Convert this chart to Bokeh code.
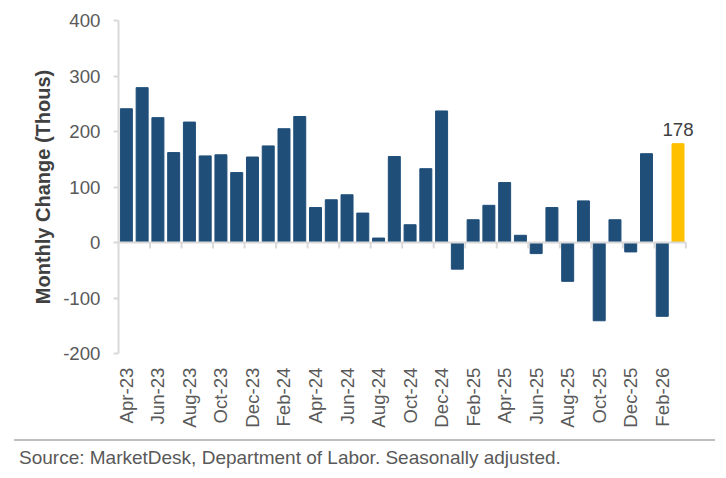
import math
from bokeh.plotting import figure
from bokeh.models import ColumnDataSource, FixedTicker, Range1d, Label, Div
from bokeh.layouts import column
from bokeh.embed import file_html
from bokeh.resources import INLINE

# ---- data ----
months = ["Apr-23", "May-23", "Jun-23", "Jul-23", "Aug-23", "Sep-23", "Oct-23", "Nov-23",
          "Dec-23", "Jan-24", "Feb-24", "Mar-24", "Apr-24", "May-24", "Jun-24", "Jul-24",
          "Aug-24", "Sep-24", "Oct-24", "Nov-24", "Dec-24", "Jan-25", "Feb-25", "Mar-25",
          "Apr-25", "May-25", "Jun-25", "Jul-25", "Aug-25", "Sep-25", "Oct-25", "Nov-25",
          "Dec-25", "Jan-26", "Feb-26", "Mar-26"]
changes = [241, 279, 225, 162, 217, 156, 158, 126, 154, 174, 205, 227,
           63, 77, 86, 53, 8, 155, 32, 133, 237, -48, 41, 67,
           108, 13, -20, 63, -70, 75, -141, 41, -17, 160, -133, 178]
tick_labels = ["Apr-23", "Jun-23", "Aug-23", "Oct-23", "Dec-23", "Feb-24", "Apr-24",
               "Jun-24", "Aug-24", "Oct-24", "Dec-24", "Feb-25", "Apr-25", "Jun-25",
               "Aug-25", "Oct-25", "Dec-25", "Feb-26"]
y_ticks = [-200, -100, 0, 100, 200, 300, 400]
y_title = "Monthly Change (Thous)"
source_note = "Source: MarketDesk, Department of Labor. Seasonally adjusted."

FONT = "Liberation Sans"
BLUE = "#1F4E79"
GOLD = "#FFC000"
GREY_TXT = "#595959"
AXIS_GREY = "#d9d9d9"

n = len(months)
idx = list(range(n))
colors = [GOLD if i == n - 1 else BLUE for i in idx]
src = ColumnDataSource(dict(x=idx, top=changes, month=months, color=colors))

# a little room right of the last bar so its value label is not clipped
p = figure(width=710, height=432, x_range=Range1d(-0.5, n - 0.5 + 0.8),
           y_range=Range1d(y_ticks[0], y_ticks[-1]),
           output_backend="svg", toolbar_location=None,
           min_border_left=118, min_border_right=12, min_border_top=20, min_border_bottom=79)
p.outline_line_color = None
p.grid.visible = False

p.vbar(x="x", top="top", width=0.76, color="color", source=src)

# zero line with short ticks at every second category boundary
p.segment(x0=[-0.5], y0=[0], x1=[n - 0.5], y1=[0], line_color=AXIS_GREY, line_width=2)
boundaries = [i + 0.5 for i in idx if i % 2 == 1]
tick_len = (y_ticks[-1] - y_ticks[0]) * 0.018
p.segment(x0=boundaries, y0=[0] * len(boundaries), x1=boundaries,
          y1=[-tick_len] * len(boundaries), line_color=AXIS_GREY, line_width=2)

# value label on the latest bar
p.add_layout(Label(x=idx[-1], y=changes[-1], text=str(changes[-1]),
                   text_align="center", text_baseline="alphabetic", y_offset=14,
                   text_font=FONT, text_font_size="18.67px", text_color="#404040"))

# bottom category labels
label_pos = [months.index(t) for t in tick_labels]
xa = p.xaxis[0]
xa.ticker = FixedTicker(ticks=label_pos)
xa.major_label_overrides = {i: months[i] for i in label_pos}
xa.major_label_orientation = math.pi / 2
xa.axis_line_color = None
xa.major_tick_line_color = None
xa.minor_tick_line_color = None
xa.major_tick_out = 0
xa.major_tick_in = 0
xa.major_label_standoff = 14
xa.major_label_text_font = FONT
xa.major_label_text_font_size = "18.67px"
xa.major_label_text_color = GREY_TXT

# y axis
ya = p.yaxis[0]
ya.ticker = FixedTicker(ticks=y_ticks)
ya.major_label_overrides = {t: str(t) for t in y_ticks}
ya.axis_line_color = AXIS_GREY
ya.axis_line_width = 2
ya.major_tick_line_color = AXIS_GREY
ya.major_tick_line_width = 2
ya.major_tick_out = 5
ya.major_tick_in = 0
ya.minor_tick_line_color = None
ya.major_label_standoff = 13
ya.major_label_text_font = FONT
ya.major_label_text_font_size = "18.67px"
ya.major_label_text_color = GREY_TXT
ya.axis_label = y_title
ya.axis_label_text_font = FONT
ya.axis_label_text_font_style = "bold"
ya.axis_label_text_font_size = "20px"
ya.axis_label_text_color = "#404040"
ya.axis_label_standoff = 6

# footer: rule + source note
footer = Div(text=source_note, width=701, height=36, margin=(7, 0, 0, 14),
             styles={"border-top": "2px solid #bfbfbf", "font-family": FONT,
                     "font-size": "19px", "color": GREY_TXT,
                     "padding-top": "3px", "padding-left": "5px",
                     "box-sizing": "border-box", "white-space": "nowrap"})

layout = column(p, footer, spacing=0)
open("out.html", "w").write(file_html(layout, INLINE))
